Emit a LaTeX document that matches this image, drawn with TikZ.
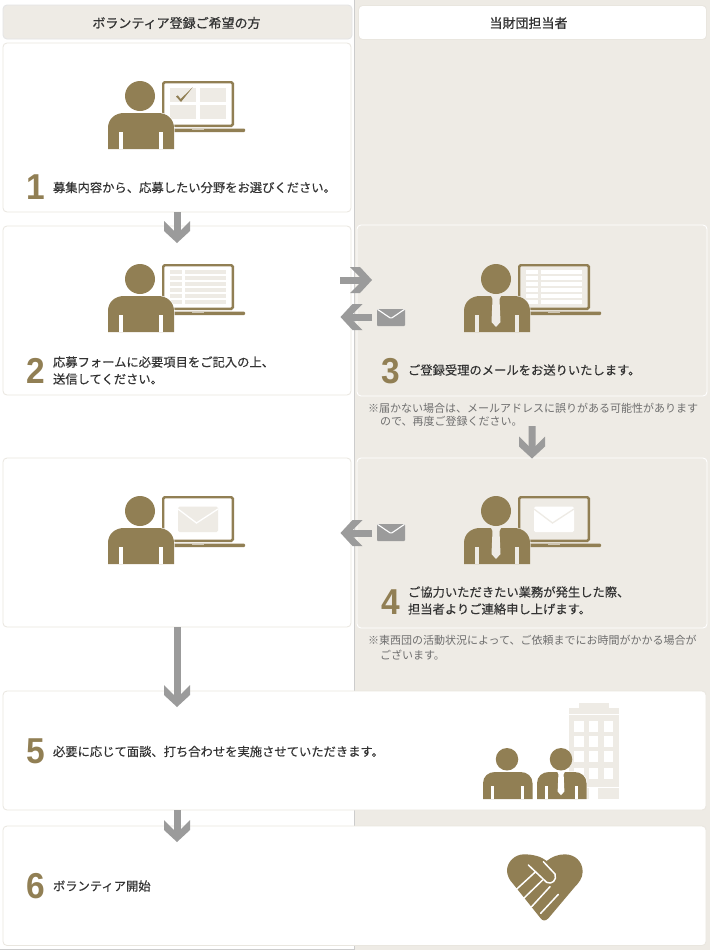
\documentclass[tikz,border=0pt]{standalone}
\usepackage{fontspec}
\usetikzlibrary{arrows.meta,calc}
\newfontfamily\jpm{Noto Sans CJK JP}[FakeBold=0.3]
\newfontfamily\jpn{Noto Sans CJK JP}
\newfontfamily\jpb{Noto Sans CJK JP}[FakeBold=0.8]
\newfontfamily\numf{Liberation Sans Bold}[FakeStretch=0.93]
\definecolor{gold}{HTML}{917F54}
\definecolor{pale}{HTML}{EEEBE5}
\definecolor{edgec}{HTML}{E9E6DF}
\definecolor{arrowc}{HTML}{9B9B9B}
\definecolor{ink}{HTML}{333333}
\definecolor{noteink}{HTML}{6E6E6E}
\pgfdeclarearrow{
  name=Chev,
  setup code={
    \pgfarrowssettipend{0bp}
    \pgfarrowssetbackend{-22bp}
    \pgfarrowssetlineend{-12bp}
    \pgfarrowssetvisualbackend{-12bp}
    \pgfarrowshullpoint{0bp}{0bp}
    \pgfarrowshullpoint{-22bp}{13bp}
    \pgfarrowshullpoint{-22bp}{-13bp}
  },
  drawing code={
    \pgfpathmoveto{\pgfqpoint{0bp}{0bp}}
    \pgfpathlineto{\pgfqpoint{-12bp}{13bp}}
    \pgfpathlineto{\pgfqpoint{-22bp}{13bp}}
    \pgfpathlineto{\pgfqpoint{-12.5bp}{3.5bp}}
    \pgfpathlineto{\pgfqpoint{-12.5bp}{-3.5bp}}
    \pgfpathlineto{\pgfqpoint{-22bp}{-13bp}}
    \pgfpathlineto{\pgfqpoint{-12bp}{-13bp}}
    \pgfpathclose
    \pgfusepathqfill
  }
}
\tikzset{
  whitebox/.style={draw=edgec,line width=.8bp,fill=white,rounded corners=4bp,inner sep=0,outer sep=0,anchor=north west},
  palebox/.style={draw=white,line width=.9bp,fill=pale,rounded corners=4bp,inner sep=0,outer sep=0,anchor=north west},
  flow/.style={draw=arrowc,line width=7bp,-{Chev}},
  steptext/.style={anchor=west,inner sep=0,outer sep=0,align=left,text=ink,font=\jpm\fontsize{12.3bp}{14bp}\selectfont},
  headtext/.style={inner sep=0,outer sep=0,text=ink,font=\jpb\fontsize{13bp}{15bp}\selectfont},
  notetext/.style={anchor=west,inner sep=0,outer sep=0,text=noteink,font=\jpn\fontsize{11bp}{13bp}\selectfont},
  numtext/.style={anchor=base west,inner sep=0,outer sep=0,text=gold,font=\numf\fontsize{36bp}{36bp}\selectfont},
  mailbox/.style={fill=arrowc,rounded corners=1bp,inner sep=0,outer sep=0,minimum width=28bp,minimum height=17bp,anchor=north west,
    path picture={\draw[white,line width=1.1bp] (path picture bounding box.north west) -- ([yshift=-9.5bp]path picture bounding box.north) -- (path picture bounding box.north east);}},
}
% person body; #1 background colour
\newcommand{\bodyicon}[1]{%
  \fill[gold] (32,15) circle (15);
  \draw[#1,line width=1.2bp] (0,68) -- (0,47) .. controls (0,38) and (7,32) .. (16,32) -- (50,32) .. controls (59,32) and (66,38) .. (66,47) -- (66,68);
  \fill[gold] (0,68) -- (0,47) .. controls (0,38) and (7,32) .. (16,32) -- (50,32) .. controls (59,32) and (66,38) .. (66,47) -- (66,68) -- cycle;
  \fill[#1] (11,51) rectangle (15,68);
  \fill[#1] (51,51) rectangle (55,68);
}
\newcommand{\tieicon}[1]{%
  \fill[#1] (26.5,31) -- (37.5,31) -- (35.5,35) -- (36.5,58) -- (32,63) -- (27.5,58) -- (28.5,35) -- cycle;
}
% laptop; #1 screen fill
\newcommand{\laptopicon}[1]{%
  \draw[gold,line width=2.4bp,fill=#1,rounded corners=1.5bp] (55.2,1.2) rectangle (124.8,44.8);
  \fill[gold,rounded corners=1bp] (60,47.5) rectangle (137,51);
  \fill[gold!45!white] (84,47.5) rectangle (96,48.5);
}
\newcommand{\formrows}[1]{%
  \foreach \r in {0,...,5}{
    \fill[#1] (62,5.7+6*\r) rectangle (74,9.7+6*\r);
    \fill[#1] (77,5.7+6*\r) rectangle (118,9.7+6*\r);
  }
}
\newcommand{\screenmail}[2]{%
  \fill[#1,rounded corners=1.5bp] (70,10.7) rectangle (110,36);
  \draw[#2,line width=1.3bp] (70,13) -- (88.5,27) -- (110,13);
}
\begin{document}
\begin{tikzpicture}[x=1bp,y=-1bp]
\useasboundingbox (0,0) rectangle (710,950);
\fill[white] (0,0) rectangle (710,950);
\fill[pale] (354,0) rectangle (710,950);
\draw[black!20,line width=.9bp] (354,0) -- (354,950);
\draw[black!20,line width=.9bp] (0,949.5) -- (354,949.5);
% headers
\node[palebox,draw=black!10,minimum width=349bp,minimum height=34bp] (headL) at (3,5) {};
\node[palebox,draw=edgec,fill=white,minimum width=348bp,minimum height=34bp] (headR) at (358.5,5.5) {};
\node[headtext] (headLt) at (176.5,23) {ボランティア登録ご希望の方};
\node[headtext] (headRt) at (528.5,23) {当財団担当者};
% boxes
\node[whitebox,minimum width=348bp,minimum height=169bp] (box1) at (3,43) {};
\node[whitebox,minimum width=348bp,minimum height=169bp] (box2) at (3,226) {};
\node[palebox,minimum width=350bp,minimum height=171bp] (box3) at (357,225) {};
\node[whitebox,minimum width=348bp,minimum height=169bp] (boxm) at (3,458) {};
\node[palebox,minimum width=350bp,minimum height=170bp] (box4) at (357,458) {};
\node[whitebox,minimum width=703bp,minimum height=119bp] (box5) at (3,691) {};
\node[whitebox,minimum width=703bp,minimum height=119.5bp] (box6) at (3,826) {};
% icon 1
\begin{scope}[shift={(108,81)}]
  \laptopicon{white}
  \fill[pale] (62,7) rectangle (88,21);
  \fill[pale] (92,7) rectangle (118,21);
  \fill[pale] (62,24) rectangle (88,38);
  \fill[pale] (92,24) rectangle (118,38);
  \fill[gold] (68,15.5) -- (69.8,14.3) -- (72.6,18) -- (84.7,6.3) -- (73,21) -- cycle;
  \bodyicon{white}
\end{scope}
% icon 2
\begin{scope}[shift={(108,264)}]
  \laptopicon{white}
  \formrows{pale}
  \bodyicon{white}
\end{scope}
% icon 3
\begin{scope}[shift={(464,264)}]
  \laptopicon{pale}
  \formrows{white}
  \bodyicon{pale}
  \tieicon{pale}
\end{scope}
% icon middle left
\begin{scope}[shift={(108,496)}]
  \laptopicon{white}
  \screenmail{pale}{white}
  \bodyicon{white}
\end{scope}
% icon 4
\begin{scope}[shift={(464,496)}]
  \laptopicon{pale}
  \screenmail{white}{pale}
  \bodyicon{pale}
  \tieicon{pale}
\end{scope}
% building
\fill[pale] (579,703) rectangle (609,708);
\fill[pale] (569,708) rectangle (618.5,799);
\fill[white] (569,714) rectangle (618.5,714.7);
\fill[white] (569,787.2) rectangle (618.5,788);
\fill[white] (589,788) rectangle (598.3,799);
\foreach \wy in {720.7,735.7,751,768}{
  \foreach \wx in {574.3,589,604}{
    \fill[white] (\wx,\wy) rectangle ++(9.3,11.3);
  }
}
% meeting people
\begin{scope}[shift={(483,748)},scale=.75]
  \bodyicon{white}
\end{scope}
\begin{scope}[shift={(537,748)},scale=.75]
  \bodyicon{white}
  \tieicon{white}
\end{scope}
% handshake heart
\begin{scope}[shift={(500,850)},scale=1/3]
  \fill[gold] (140,33) .. controls (155,20) and (175,13) .. (195,13)
    .. controls (225,13) and (248,35) .. (248,65)
    .. controls (248,85) and (235,100) .. (225,110)
    -- (145,205) .. controls (135,215) and (128,212) .. (122,205)
    -- (38,100) .. controls (28,90) and (21,75) .. (21,62)
    .. controls (21,35) and (45,13) .. (72,13)
    .. controls (100,13) and (125,20) .. (140,33) -- cycle;
  \draw[white,line width=1.5bp,line cap=round,line join=round]
    (85,45) -- (140,97) .. controls (155,105) and (172,90) .. (165,72) -- (130,35);
  \draw[white,line width=1.5bp,line cap=round] (107,65) -- (47,120);
  \draw[white,line width=1.5bp,line cap=round] (128,90) -- (70,146);
  \draw[white,line width=1.5bp,line cap=round] (150,110) -- (95,170);
  \draw[white,line width=1.5bp,line cap=round] (175,133) -- (122,190);
\end{scope}
% mail icons
\node[mailbox] (mail2) at (377,309) {};
\node[mailbox] (mail4) at (377,524) {};
% connectors
\coordinate (r2s) at (340,280);
\coordinate (r2t) at (372,280);
\coordinate (l3s) at (372,317);
\coordinate (l3t) at (340.5,317);
\coordinate (l4s) at (372,533);
\coordinate (l4t) at (340.5,533);
\coordinate (d3s) at (532,426);
\draw[flow] (box1.south) -- ([yshift=-17bp]box2.north);
\draw[flow] (r2s) -- (r2t);
\draw[flow] (l3s) -- (l3t);
\draw[flow] (d3s) -- ([yshift=-.5bp]box4.north);
\draw[flow] (l4s) -- (l4t);
\draw[flow] (boxm.south) -- ([yshift=-16bp]box5.north west -| boxm.south);
\draw[flow] (box5.south west -| box1.south) -- ([yshift=-16bp]box6.north west -| box1.south);
% step numbers and text
\node[numtext] (n1) at (26,199) {1};
\node[steptext] (t1) at (53,187.5) {募集内容から、応募したい分野をお選びください。};
\node[numtext] (n2) at (26,383.5) {2};
\node[steptext] (t2a) at (53,362) {応募フォームに必要項目をご記入の上、};
\node[steptext] (t2b) at (53,379) {送信してください。};
\node[numtext] (n3) at (381,383) {3};
\node[steptext] (t3) at (408,370) {ご登録受理のメールをお送りいたします。};
\node[numtext] (n4) at (381.5,614) {4};
\node[steptext] (t4a) at (408,592) {ご協力いただきたい業務が発生した際、};
\node[steptext] (t4b) at (408,609) {担当者よりご連絡申し上げます。};
\node[numtext] (n5) at (26,763) {5};
\node[steptext] (t5) at (53,751.5) {必要に応じて面談、打ち合わせを実施させていただきます。};
\node[numtext] (n6) at (26,898) {6};
\node[steptext] (t6) at (53,886) {ボランティア開始};
% notes
\node[notetext] (note3a) at (368,408) {※届かない場合は、メールアドレスに誤りがある可能性があります};
\node[notetext] (note3b) at (380,421.5) {ので、再度ご登録ください。};
\node[notetext] (note4a) at (368,640.5) {※東西団の活動状況によって、ご依頼までにお時間がかかる場合が};
\node[notetext] (note4b) at (380,655) {ございます。};
\end{tikzpicture}
\end{document}
